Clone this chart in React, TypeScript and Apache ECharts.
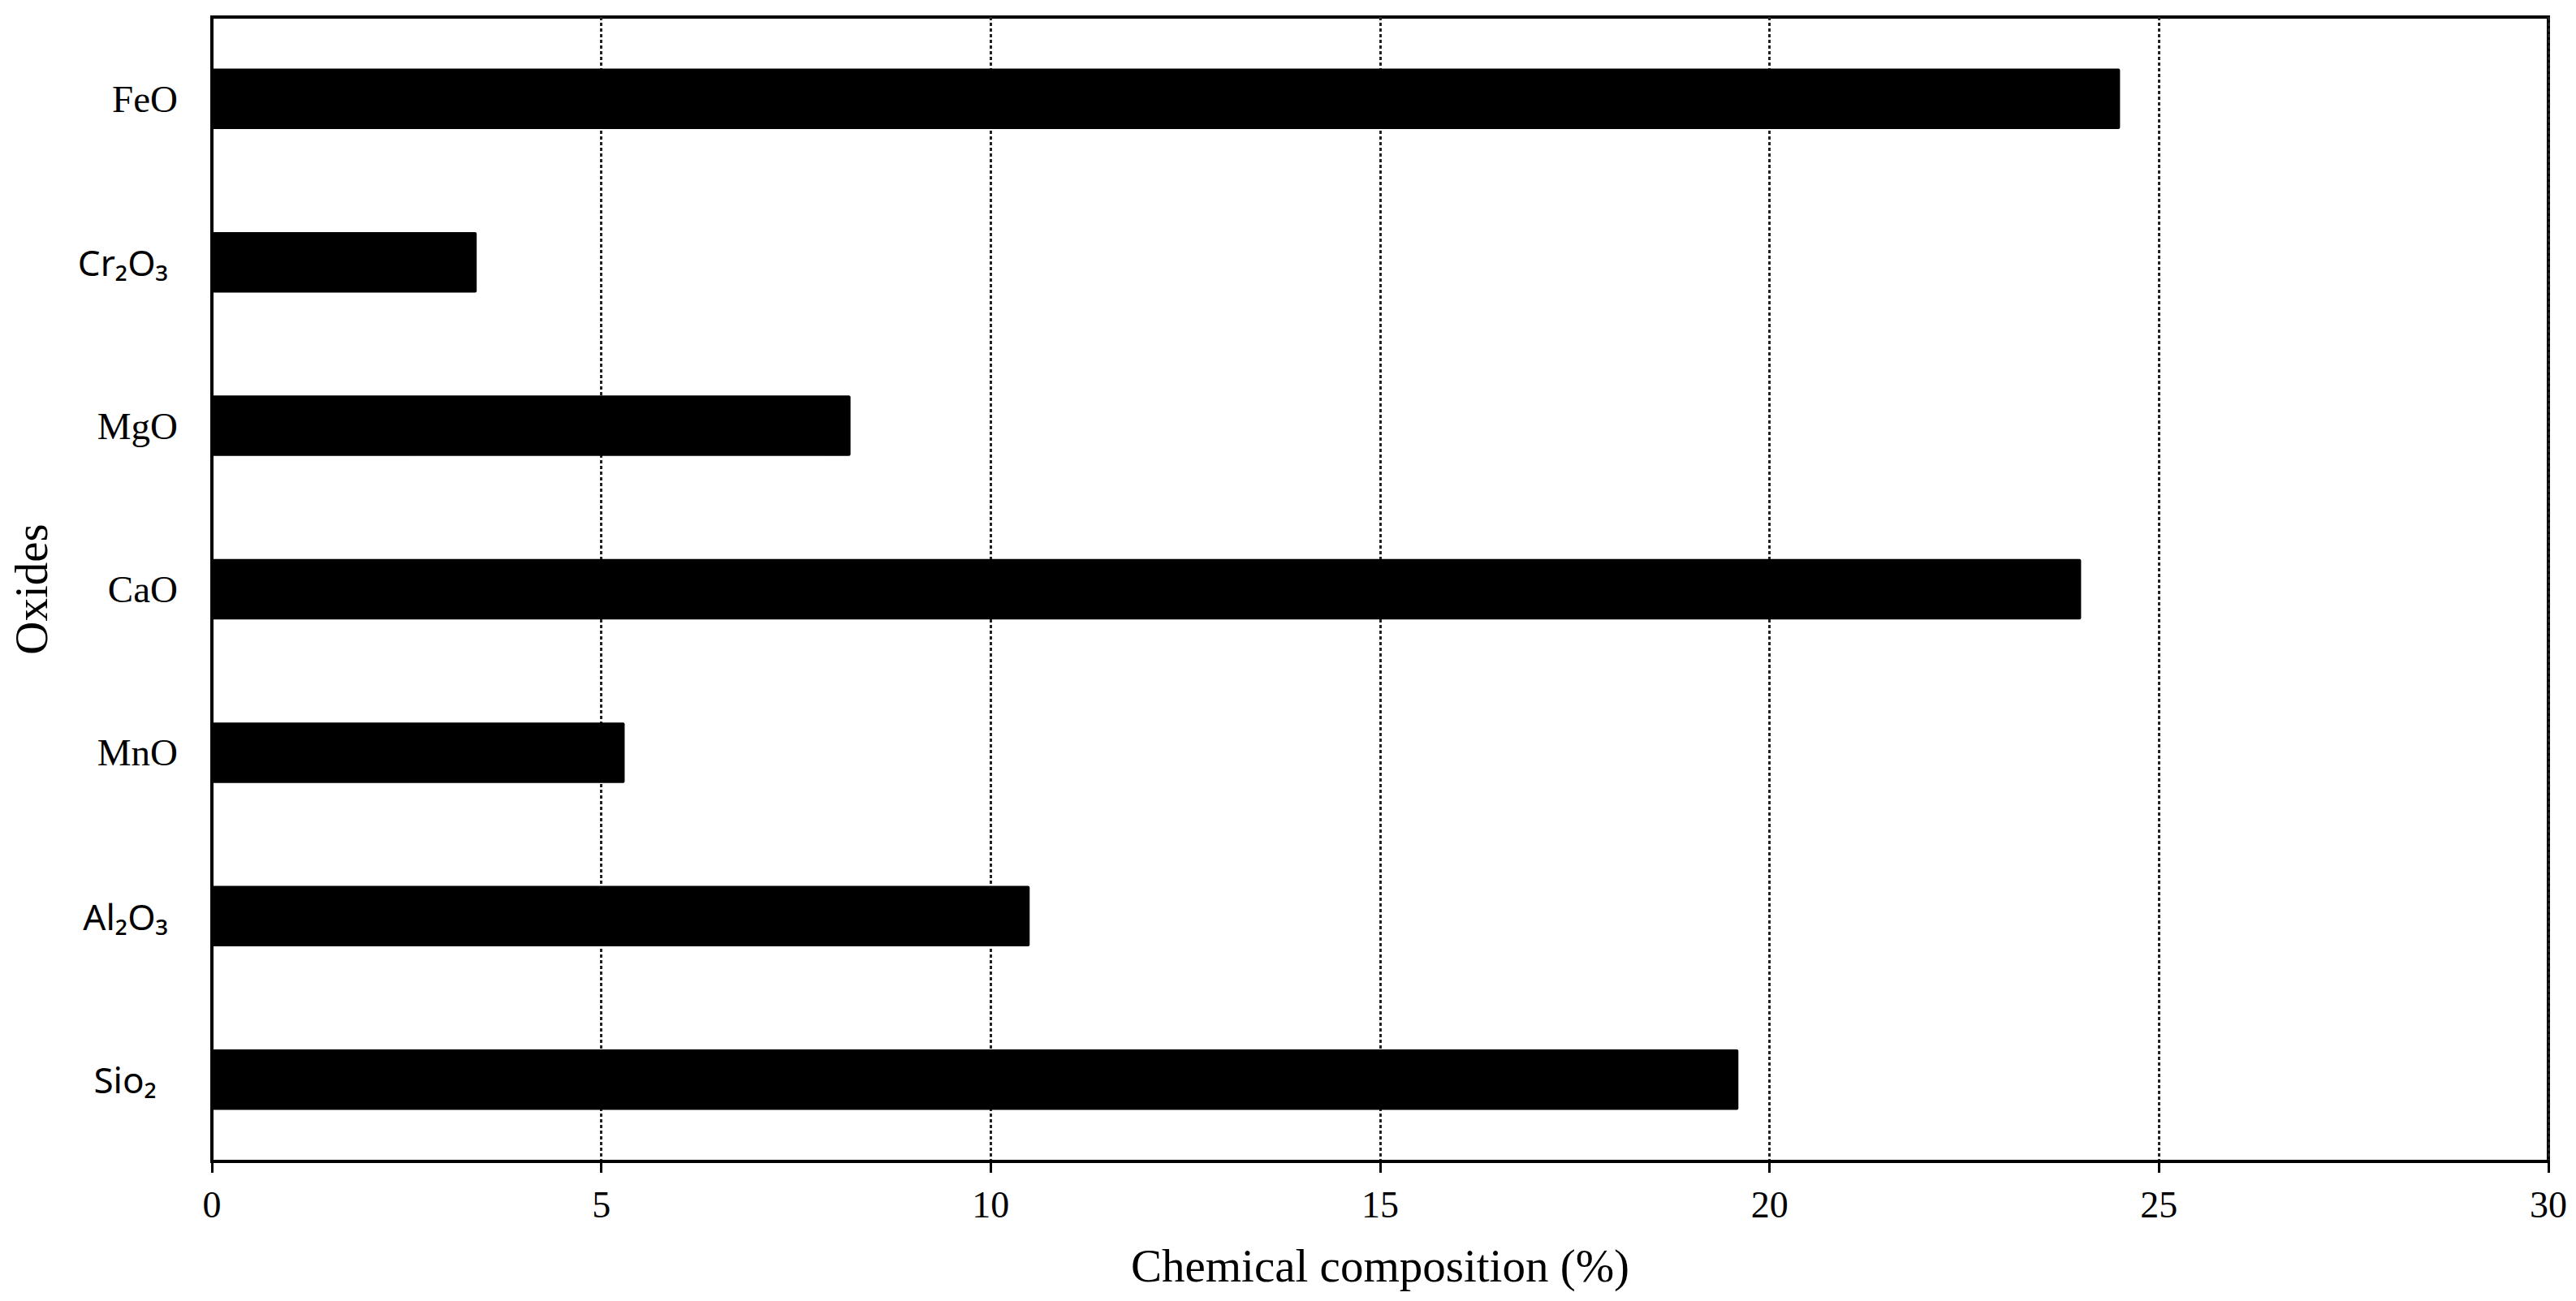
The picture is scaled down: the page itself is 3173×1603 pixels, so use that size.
import React, { useEffect, useRef } from "react";
import * as echarts from "echarts";

// Categories listed bottom to top (as drawn on the y axis)
const categories = ["Sio₂", "Al₂O₃", "MnO", "CaO", "MgO", "Cr₂O₃", "FeO"];
const sansLabels = ["Al₂O₃", "Cr₂O₃"];
const sansLabelsWide = ["Sio₂"];
const values = [19.6, 10.5, 5.3, 24.0, 8.2, 3.4, 24.5];
const xTicks = [0, 5, 10, 15, 20, 25, 30];

const SERIF = "'Liberation Serif', 'Times New Roman', serif";
const SANS = "'Noto Sans', 'DejaVu Sans', sans-serif";

export default function App() {
  const ref = useRef<HTMLDivElement>(null);
  useEffect(() => {
    if (!ref.current) return;
    const chart = echarts.init(ref.current, undefined, { renderer: "svg" });
    chart.setOption({
      animation: false,
      backgroundColor: "#ffffff",
      grid: {
        left: 261,
        right: 34,
        top: 21,
        bottom: 172,
        show: true,
        borderColor: "#000",
        borderWidth: 4,
        backgroundColor: "transparent",
      },
      xAxis: {
        type: "value",
        min: xTicks[0],
        max: xTicks[xTicks.length - 1],
        interval: 5,
        name: "Chemical composition (%)",
        nameLocation: "middle",
        nameGap: 100,
        nameTextStyle: { fontFamily: SERIF, fontSize: 57, color: "#000" },
        axisLine: { show: true, lineStyle: { color: "#000", width: 4 } },
        axisTick: { show: true, length: 14, lineStyle: { color: "#000", width: 3 } },
        axisLabel: { fontFamily: SERIF, fontSize: 46, color: "#000", margin: 30 },
        splitLine: {
          show: true,
          lineStyle: { color: "#222", width: 3, type: [4, 3] },
        },
      },
      yAxis: {
        type: "category",
        data: categories,
        name: "Oxides",
        nameLocation: "middle",
        nameGap: 194,
        nameTextStyle: { fontFamily: SERIF, fontSize: 57, color: "#000" },
        axisLine: { show: true, lineStyle: { color: "#000", width: 4 } },
        axisTick: { show: false },
        splitLine: { show: false },
        axisLabel: {
          margin: 42,
          formatter: (v: string) =>
            sansLabelsWide.includes(v)
              ? `{w|${v}}`
              : sansLabels.includes(v)
              ? `{s|${v}}`
              : `{r|${v}}`,
          rich: {
            s: { fontFamily: SANS, fontSize: 44, color: "#000", padding: [0, 12, 0, 0] },
            w: { fontFamily: SANS, fontSize: 44, color: "#000", padding: [0, 26, 0, 0] },
            r: { fontFamily: SERIF, fontSize: 47, color: "#000" },
          },
        },
      },
      series: [
        {
          type: "bar",
          data: values,
          barWidth: "37%",
          itemStyle: { color: "#000", borderRadius: 2 },
        },
      ],
    });
    return () => chart.dispose();
  }, []);
  return (
    <div
      ref={ref}
      style={{ position: "absolute", left: 0, top: 0, width: 3173, height: 1603 }}
    />
  );
}
